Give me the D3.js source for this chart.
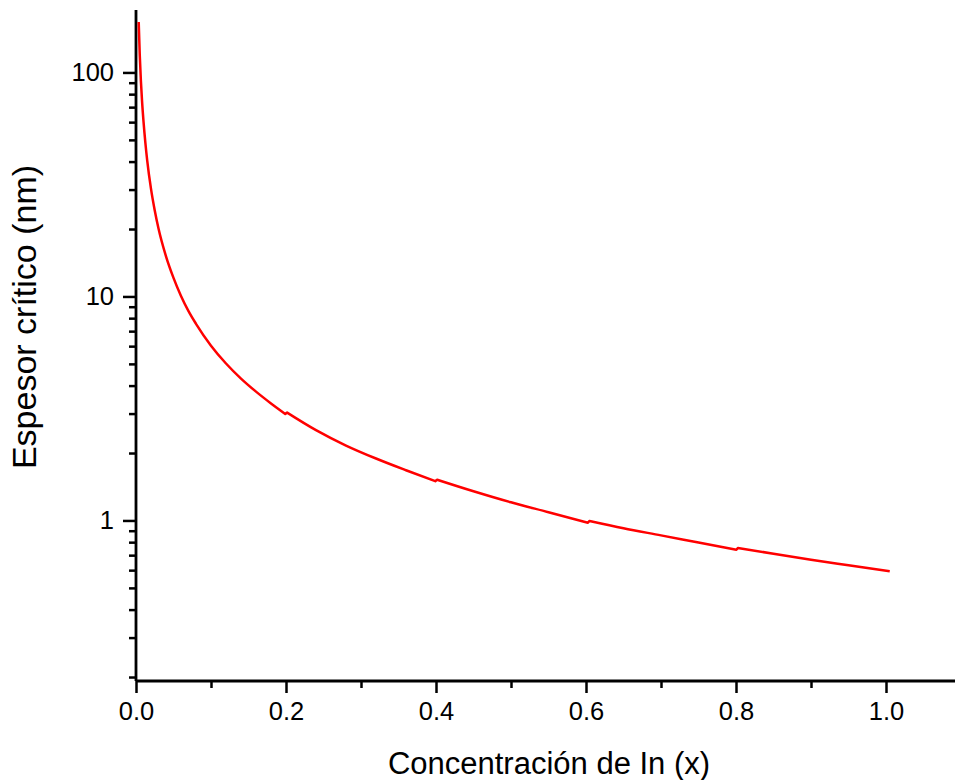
<!DOCTYPE html>
<html>
<head>
<meta charset="utf-8">
<script src="https://cdn.jsdelivr.net/npm/d3@7"></script>
<style>
  body { margin: 0; background: #fff; }
  svg { display: block; }
  text { font-family: "Liberation Sans", Arial, sans-serif; fill: #000; }
</style>
</head>
<body>
<svg id="chart" width="955" height="780"></svg>
<script>
// In concentration (x) and critical thickness (nm)
var concX = [0.0036, 0.005, 0.0065, 0.008, 0.01, 0.0125, 0.015, 0.02, 0.025, 0.03,
             0.04, 0.05, 0.06, 0.07, 0.08, 0.1, 0.12, 0.14, 0.16, 0.18,
             0.199, 0.2015, 0.24, 0.28, 0.32, 0.36, 0.399, 0.4015, 0.45, 0.5,
             0.55, 0.6025, 0.6045, 0.65, 0.7, 0.75, 0.8005, 0.8025, 0.85, 0.9,
             0.95, 1.005];
var espesor = [168, 120, 92, 75, 60.5, 48.5, 40.3, 30.2, 24.2, 20.1,
               15.1, 12.1, 10.05, 8.6, 7.55, 6.03, 5.02, 4.3, 3.76, 3.33,
               2.99, 3.03, 2.53, 2.16, 1.89, 1.675, 1.497, 1.52, 1.35, 1.205,
               1.088, 0.976, 0.995, 0.923, 0.858, 0.797, 0.74, 0.754, 0.71, 0.668,
               0.631, 0.593];

var xMajor = [0, 0.2, 0.4, 0.6, 0.8, 1.0];
var xMinor = [0.1, 0.3, 0.5, 0.7, 0.9];
var yMajor = [1, 10, 100];
var yMinor = [0.2, 0.3, 0.4, 0.5, 0.6, 0.7, 0.8, 0.9,
              2, 3, 4, 5, 6, 7, 8, 9,
              20, 30, 40, 50, 60, 70, 80, 90];

var xTitle = "Concentración de In (x)";
var yTitle = "Espesor crítico (nm)";

var plotL = 136, plotR = 955, plotT = 10, plotB = 681;

var svg = d3.select("#chart");

var x = d3.scaleLinear().domain([0, 1.092]).range([plotL, plotR]);
var y = d3.scaleLog().domain([0.192, 190]).range([plotB, plotT]);

// x axis
var xg = svg.append("g").attr("transform", "translate(0," + plotB + ")");
xg.call(d3.axisBottom(x).tickValues(xMajor).tickSize(12).tickPadding(9)
    .tickFormat(d3.format(".1f")));
xg.append("g").call(d3.axisBottom(x).tickValues(xMinor).tickSize(7).tickFormat(""));

// y axis
var yg = svg.append("g").attr("transform", "translate(" + plotL + ",0)");
yg.call(d3.axisLeft(y).tickValues(yMajor).tickSize(13).tickPadding(9)
    .tickFormat(d3.format("d")));
yg.append("g").call(d3.axisLeft(y).tickValues(yMinor).tickSize(7).tickFormat(""));

svg.selectAll(".domain").remove();
svg.selectAll(".tick line").attr("stroke", "#000").attr("stroke-width", 2.5);
svg.selectAll(".tick text").style("font-size", "25.5px")
  .style("font-family", "'Liberation Sans', Arial, sans-serif").attr("fill", "#000");

// axis lines
svg.append("line").attr("x1", plotL).attr("x2", plotR).attr("y1", plotB).attr("y2", plotB)
  .attr("stroke", "#000").attr("stroke-width", 2.8);
svg.append("line").attr("x1", plotL).attr("x2", plotL).attr("y1", plotT).attr("y2", plotB)
  .attr("stroke", "#000").attr("stroke-width", 2.8);

// curve: smooth pieces, joined by the small steps where the value jumps up
var pts = concX.map(function (d, i) { return [d, espesor[i]]; });
var segs = [[pts[0]]];
for (var i = 1; i < pts.length; i++) {
  if (pts[i][1] > pts[i - 1][1]) segs.push([]);
  segs[segs.length - 1].push(pts[i]);
}
var line = d3.line()
  .x(function (d) { return x(d[0]); })
  .y(function (d) { return y(d[1]); })
  .curve(d3.curveMonotoneX);

var dStr = segs.map(function (s, k) {
  var p = line(s);
  return k === 0 ? p : "L" + p.slice(1);
}).join("");

svg.append("path")
  .attr("d", dStr)
  .attr("fill", "none")
  .attr("stroke", "#ff0000")
  .attr("stroke-width", 2.5)
  .attr("stroke-linejoin", "round");

// titles
svg.append("text")
  .attr("x", 549).attr("y", 774)
  .attr("text-anchor", "middle")
  .style("font-size", "31px")
  .text(xTitle);

svg.append("text")
  .attr("transform", "translate(36,317) rotate(-90)")
  .attr("text-anchor", "middle")
  .style("font-size", "34px")
  .text(yTitle);
</script>
</body>
</html>
